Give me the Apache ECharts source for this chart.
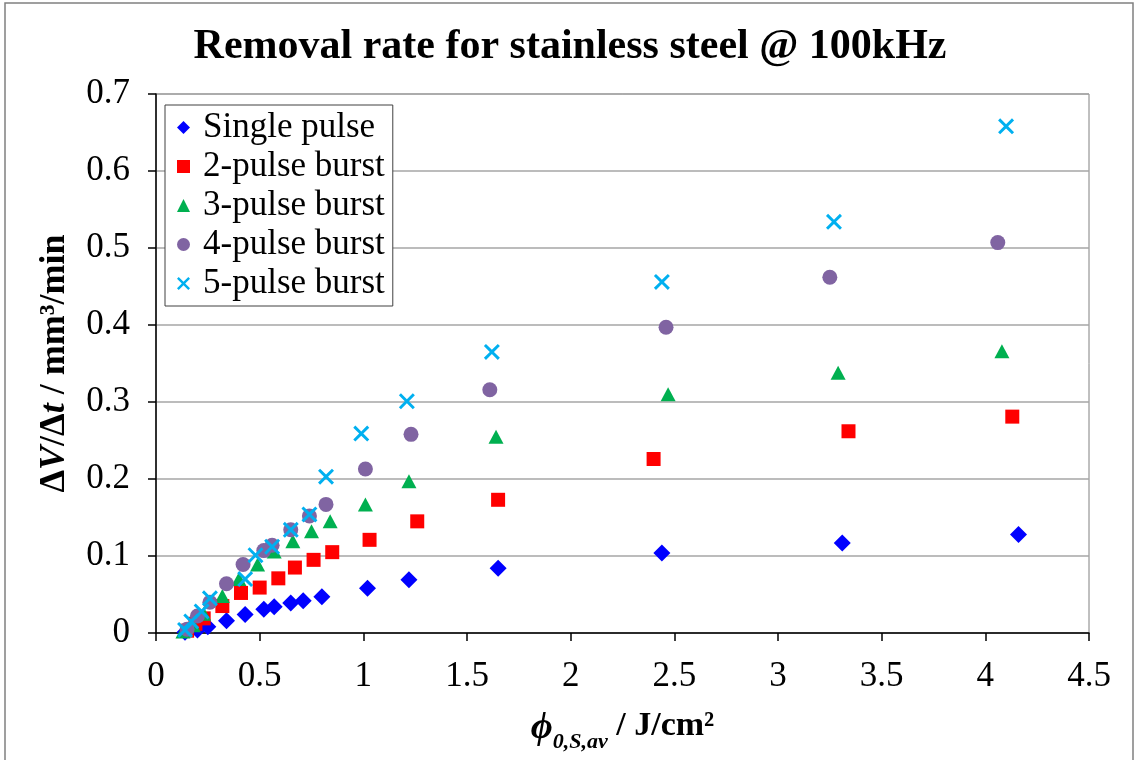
<!DOCTYPE html>
<html>
<head>
<meta charset="utf-8">
<title>Removal rate</title>
<script src="https://cdn.jsdelivr.net/npm/echarts@6/dist/echarts.min.js"></script>
<style>
  html, body { margin: 0; padding: 0; background: #fff; }
  #chart { width: 1140px; height: 760px; }
</style>
</head>
<body>
<div id="chart"></div>
<script>
// 数据：近似值
const seriesNames = ['Single pulse', '2-pulse burst', '3-pulse burst', '4-pulse burst', '5-pulse burst']

const singleX = [0.14, 0.20, 0.25, 0.34, 0.43, 0.52, 0.57, 0.65, 0.71, 0.80, 1.02, 1.22, 1.65, 2.44, 3.31, 4.16]
const singleY = [0.001, 0.004, 0.008, 0.016, 0.024, 0.031, 0.034, 0.039, 0.042, 0.047, 0.058, 0.069, 0.084, 0.104, 0.117, 0.128]

const twoX = [0.15, 0.19, 0.23, 0.32, 0.41, 0.50, 0.59, 0.67, 0.76, 0.85, 1.03, 1.26, 1.65, 2.40, 3.34, 4.13]
const twoY = [0.003, 0.012, 0.019, 0.035, 0.052, 0.059, 0.071, 0.085, 0.095, 0.105, 0.121, 0.145, 0.173, 0.226, 0.262, 0.281]

const threeX = [0.13, 0.18, 0.23, 0.32, 0.40, 0.49, 0.57, 0.66, 0.75, 0.84, 1.01, 1.22, 1.64, 2.47, 3.29, 4.08]
const threeY = [0.002, 0.010, 0.025, 0.048, 0.070, 0.089, 0.106, 0.119, 0.132, 0.145, 0.167, 0.197, 0.255, 0.310, 0.338, 0.366]

const fourX = [0.15, 0.20, 0.26, 0.34, 0.42, 0.52, 0.56, 0.65, 0.74, 0.82, 1.01, 1.23, 1.61, 2.46, 3.25, 4.06]
const fourY = [0.005, 0.022, 0.040, 0.064, 0.089, 0.107, 0.114, 0.134, 0.152, 0.167, 0.213, 0.258, 0.316, 0.397, 0.462, 0.507]

const fiveX = [0.14, 0.17, 0.22, 0.26, 0.43, 0.48, 0.56, 0.65, 0.74, 0.82, 0.99, 1.21, 1.62, 2.44, 3.27, 4.10]
const fiveY = [0.004, 0.015, 0.028, 0.045, 0.070, 0.101, 0.112, 0.134, 0.154, 0.203, 0.259, 0.301, 0.365, 0.456, 0.534, 0.658]

const FONT = '"Liberation Serif", "DejaVu Serif", serif'

// x,y 两个数组拼成散点数据
function pairs (xs, ys) {
  return xs.map((x, i) => [x, ys[i]])
}

// 叉号用填充路径画
const crossPath = 'path://M0,2.6 L2.6,0 L10,7.4 L17.4,0 L20,2.6 L12.6,10 L20,17.4 L17.4,20 L10,12.6 L2.6,20 L0,17.4 L7.4,10 Z'

const chart = echarts.init(document.getElementById('chart'))

const option = {
  backgroundColor: '#fff',
  animation: false,
  title: {
    text: 'Removal rate for stainless steel @ 100kHz',
    left: 'center',
    top: 21,
    textStyle: { fontFamily: FONT, fontSize: 42, fontWeight: 'bold', color: '#000' }
  },
  graphic: [
    {
      type: 'rect',
      shape: { x: 5, y: 3, width: 1128, height: 790 },
      style: { fill: 'none', stroke: '#808080', lineWidth: 1.5 },
      silent: true
    }
  ],
  legend: {
    orient: 'vertical',
    left: 165,
    top: 105,
    padding: [5, 8, 5, 12],
    itemGap: 4,
    itemWidth: 13,
    itemHeight: 13,
    backgroundColor: '#fff',
    borderColor: '#404040',
    borderWidth: 1,
    data: seriesNames,
    textStyle: { fontFamily: FONT, fontSize: 35, lineHeight: 35, color: '#000', padding: [0, 0, 0, 8] }
  },
  grid: {
    left: 156,
    right: 51,
    top: 94,
    bottom: 127,
    show: true,
    borderColor: '#808080',
    borderWidth: 1
  },
  xAxis: {
    type: 'value',
    min: 0,
    max: 4.5,
    interval: 0.5,
    name: '{phi|ϕ}{sub|0,S,av}{b| / J/cm²}',
    nameLocation: 'middle',
    nameGap: 76,
    nameTextStyle: {
      rich: {
        phi: { fontFamily: FONT, fontSize: 38, fontStyle: 'italic', fontWeight: 'bold', color: '#000', lineHeight: 44, verticalAlign: 'top' },
        sub: { fontFamily: FONT, fontSize: 22, fontStyle: 'italic', fontWeight: 'bold', color: '#000', lineHeight: 44, verticalAlign: 'bottom' },
        b: { fontFamily: FONT, fontSize: 34, fontWeight: 'bold', color: '#000', lineHeight: 44, verticalAlign: 'top' }
      }
    },
    axisLine: { show: true, onZero: false, lineStyle: { color: '#000', width: 1.5 } },
    axisTick: { show: true, inside: false, length: 8, lineStyle: { color: '#000', width: 1.5 } },
    axisLabel: { margin: 26, fontFamily: FONT, fontSize: 35, color: '#000' },
    splitLine: { show: false }
  },
  yAxis: {
    type: 'value',
    min: 0,
    max: 0.7,
    interval: 0.1,
    name: '{b|Δ}{bi|V}{b|/Δ}{bi|t}{b| / mm³/min}',
    nameLocation: 'middle',
    nameGap: 83,
    nameTextStyle: {
      rich: {
        b: { fontFamily: FONT, fontSize: 36, fontWeight: 'bold', color: '#000' },
        bi: { fontFamily: FONT, fontSize: 36, fontWeight: 'bold', fontStyle: 'italic', color: '#000' }
      }
    },
    axisLine: { show: true, onZero: false, lineStyle: { color: '#000', width: 1.5 } },
    axisTick: { show: true, inside: false, length: 8, lineStyle: { color: '#000', width: 1.5 } },
    axisLabel: { margin: 26, fontFamily: FONT, fontSize: 35, color: '#000' },
    splitLine: { show: true, lineStyle: { color: '#a6a6a6', width: 1.5 } }
  },
  series: [
    {
      name: seriesNames[0],
      type: 'scatter',
      symbol: 'diamond',
      symbolSize: 17,
      itemStyle: { color: '#0000ff', opacity: 1 },
      data: pairs(singleX, singleY)
    },
    {
      name: seriesNames[1],
      type: 'scatter',
      symbol: 'rect',
      symbolSize: 14,
      itemStyle: { color: '#ff0000', opacity: 1 },
      data: pairs(twoX, twoY)
    },
    {
      name: seriesNames[2],
      type: 'scatter',
      symbol: 'triangle',
      symbolSize: [15, 14],
      itemStyle: { color: '#00b050', opacity: 1 },
      data: pairs(threeX, threeY)
    },
    {
      name: seriesNames[3],
      type: 'scatter',
      symbol: 'circle',
      symbolSize: 15,
      itemStyle: { color: '#8064a2', opacity: 1 },
      data: pairs(fourX, fourY)
    },
    {
      name: seriesNames[4],
      type: 'scatter',
      symbol: crossPath,
      symbolSize: 16,
      itemStyle: { color: '#00b0f0', opacity: 1 },
      data: pairs(fiveX, fiveY)
    }
  ]
}

chart.setOption(option)
</script>
</body>
</html>
